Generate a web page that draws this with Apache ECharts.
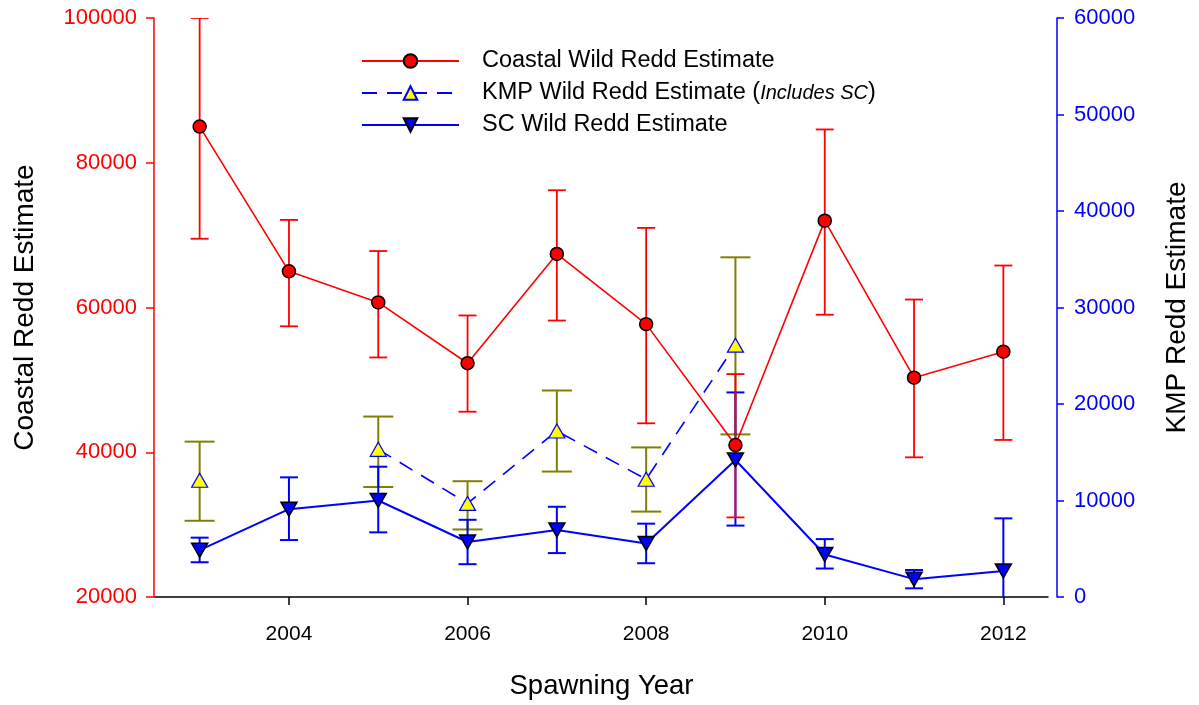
<!DOCTYPE html>
<html>
<head>
<meta charset="utf-8">
<script src="https://cdn.jsdelivr.net/npm/echarts@6/dist/echarts.min.js"></script>
<style>
html,body{margin:0;padding:0;background:#fff;}
#c{width:1199px;height:705px;}
</style>
</head>
<body>
<div id="c"></div>
<script>
// ---- data ----
const years = [2003, 2004, 2005, 2006, 2007, 2008, 2009, 2010, 2011, 2012];
const coastal     = [85000, 65000, 60700, 52300, 67400, 57700, 41000, 72000, 50300, 53900];
const coastalLow  = [69500, 57400, 53100, 45600, 58200, 44000, 31000, 59000, 39300, 41700];
const coastalHigh = [100000, 72100, 67800, 58900, 76200, 71000, 50800, 84600, 61100, 65800];
const kmp     = [12100, null, 15300, 9700, 17200, 12200, 26100, null, null, null];
const kmpLow  = [7900, null, 11400, 7000, 13000, 8850, 16850, null, null, null];
const kmpHigh = [16100, null, 18700, 12000, 21400, 15500, 35200, null, null, null];
const sc     = [4850, 9100, 10000, 5700, 6950, 5550, 14200, 4400, 1850, 2700];
const scLow  = [3600, 5900, 6700, 3400, 4550, 3500, 7400, 2950, 900, -2700];
const scHigh = [6150, 12400, 13500, 8000, 9350, 7600, 21200, 6000, 2800, 8150];
const xTicks = [2004, 2006, 2008, 2010, 2012];
const seriesNames = ['Coastal Wild Redd Estimate', 'KMP Wild Redd Estimate', 'SC Wild Redd Estimate'];

const FONT = 'Liberation Sans, Arial, sans-serif';

function pairs(v) { return years.map((y, i) => [y, v[i]]); }
function errs(lo, hi) {
  const out = [];
  years.forEach((y, i) => { if (lo[i] != null && hi[i] != null) out.push([y, lo[i], hi[i]]); });
  return out;
}
function errRender(capHalf, color, width) {
  return function (params, api) {
    const x = api.value(0), lo = api.value(1), hi = api.value(2);
    const cs = params.coordSys;
    const top = cs.y, bottom = cs.y + cs.height;
    const pLo = api.coord([x, lo]);
    const pHi = api.coord([x, hi]);
    const children = [];
    const style = { stroke: color, lineWidth: width, fill: null };
    let yl = pLo[1], yh = pHi[1];
    const loIn = yl <= bottom + 0.5, hiIn = yh >= top - 0.5;
    yl = Math.min(yl, bottom); yh = Math.max(yh, top);
    children.push({ type: 'line', shape: { x1: pLo[0], y1: yl, x2: pHi[0], y2: yh }, style: style });
    if (hiIn) children.push({ type: 'line', shape: { x1: pHi[0] - capHalf, y1: yh, x2: pHi[0] + capHalf, y2: yh }, style: style });
    if (loIn) children.push({ type: 'line', shape: { x1: pLo[0] - capHalf, y1: yl, x2: pLo[0] + capHalf, y2: yl }, style: style });
    return { type: 'group', children: children };
  };
}

const chart = echarts.init(document.getElementById('c'), null, { renderer: 'canvas' });
chart.setOption({
  animation: false,
  backgroundColor: '#ffffff',
  textStyle: { fontFamily: FONT },
  grid: { left: 155, right: 143, top: 18, bottom: 105, containLabel: false },
  legend: {
    data: seriesNames,
    orient: 'vertical',
    left: 361,
    top: 49,
    padding: 0,
    itemWidth: 97,
    itemHeight: 17,
    itemGap: 8,
    selectedMode: false,
    textStyle: {
      fontFamily: FONT, fontSize: 23.5, color: '#000', lineHeight: 24, padding: [0, 0, 0, 18],
      rich: { it: { fontFamily: FONT, fontSize: 20, fontStyle: 'italic', color: '#000' } }
    },
    formatter: function (name) {
      if (name === seriesNames[1]) return name + ' ({it|Includes SC})';
      return name;
    }
  },
  xAxis: {
    type: 'value',
    min: 2002.5,
    max: 2012.5,
    name: 'Spawning Year',
    nameLocation: 'middle',
    nameGap: 75,
    nameTextStyle: { fontFamily: FONT, fontSize: 27.5, color: '#000' },
    axisLine: { show: true, onZero: false, lineStyle: { color: '#000', width: 1.5 } },
    axisTick: { show: true, customValues: xTicks, length: 8, inside: false, lineStyle: { color: '#000', width: 1.5 } },
    axisLabel: { customValues: xTicks, formatter: v => String(v), fontFamily: FONT, fontSize: 21, color: '#000', margin: 27 },
    splitLine: { show: false }
  },
  yAxis: [
    {
      type: 'value', position: 'left', offset: 1, min: 20000, max: 100000, interval: 20000,
      name: 'Coastal Redd Estimate', nameLocation: 'middle', nameGap: 115,
      nameTextStyle: { fontFamily: FONT, fontSize: 28, color: '#000' },
      axisLine: { show: true, lineStyle: { color: '#ff0000', width: 1.5 } },
      axisTick: { show: true, length: 8, lineStyle: { color: '#ff0000', width: 1.5 } },
      axisLabel: { formatter: v => String(v), fontFamily: FONT, fontSize: 22, color: '#ff0000', margin: 17 },
      splitLine: { show: false }
    },
    {
      type: 'value', position: 'right', offset: 9, min: 0, max: 60000, interval: 10000,
      name: 'KMP Redd Estimate', nameLocation: 'middle', nameGap: 106,
      nameTextStyle: { fontFamily: FONT, fontSize: 28, color: '#000' },
      axisLine: { show: true, lineStyle: { color: '#0000ff', width: 1.5 } },
      axisTick: { show: true, length: 7, lineStyle: { color: '#0000ff', width: 1.5 } },
      axisLabel: { formatter: v => String(v), fontFamily: FONT, fontSize: 22, color: '#0000ff', margin: 17 },
      splitLine: { show: false }
    }
  ],
  series: [
    {
      type: 'custom', name: 'kmpErr', yAxisIndex: 1, z: 2,
      renderItem: errRender(15, '#808000', 2), data: errs(kmpLow, kmpHigh),
      encode: { x: 0, y: [1, 2] }, clip: true
    },
    {
      type: 'custom', name: 'scErr', yAxisIndex: 1, z: 3,
      renderItem: errRender(9, '#0000ff', 2), data: errs(scLow, scHigh),
      encode: { x: 0, y: [1, 2] }, clip: true
    },
    {
      type: 'custom', name: 'coastalErr', yAxisIndex: 0, z: 4,
      renderItem: errRender(9, '#ff0000', 1.8), data: errs(coastalLow, coastalHigh),
      encode: { x: 0, y: [1, 2] }, clip: true
    },
    {
      type: 'line', name: seriesNames[1], yAxisIndex: 1, z: 5,
      data: pairs(kmp), connectNulls: false,
      symbol: 'triangle', symbolSize: [16, 14], showSymbol: true,
      lineStyle: { color: '#0000ff', width: 1.6, type: [15, 10] },
      itemStyle: { color: '#ffff00', borderColor: '#0000ff', borderWidth: 1.2 }
    },
    {
      type: 'line', name: seriesNames[2], yAxisIndex: 1, z: 6,
      data: pairs(sc),
      symbol: 'triangle', symbolRotate: 180, symbolSize: [16, 14], showSymbol: true,
      lineStyle: { color: '#0000ff', width: 2 },
      itemStyle: { color: '#0000ff', borderColor: '#000', borderWidth: 1.5 }
    },
    {
      type: 'line', name: seriesNames[0], yAxisIndex: 0, z: 7,
      data: pairs(coastal),
      symbol: 'circle', symbolSize: 13, showSymbol: true,
      lineStyle: { color: '#ff0000', width: 1.6 },
      itemStyle: { color: '#ff0000', borderColor: '#000', borderWidth: 1.5 }
    }
  ]
});
</script>
</body>
</html>
